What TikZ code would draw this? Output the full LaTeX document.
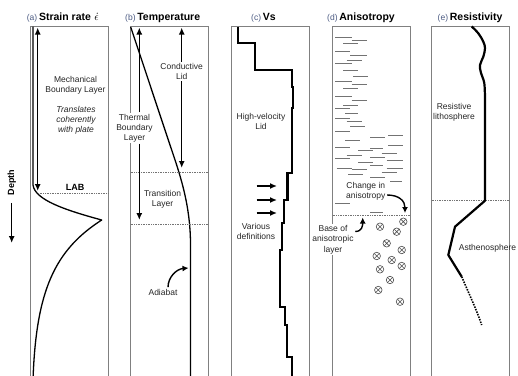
\documentclass[tikz,border=0pt]{standalone}
\usepackage{fontspec}
\setmainfont{Liberation Sans}
\usetikzlibrary{arrows.meta, positioning}
\definecolor{tagblue}{RGB}{75,90,130}
\newcommand{\paneltag}[1]{{\mdseries\fontsize{8.5}{10}\selectfont\color{tagblue}(#1)}}
\tikzset{
    panel/.style={draw=black!50, line width=0.9pt},
    layerline/.style={draw=black!55, densely dotted, line width=0.7pt},
    layerspan/.style={draw=black, line width=1.5pt, {Latex[length=7pt,width=6pt]}-{Latex[length=7pt,width=6pt]}},
    halfspan/.style={draw=black, line width=1.5pt, -{Latex[length=7pt,width=6pt]}},
    pointer/.style={draw=black, line width=1.5pt, -{Latex[length=7pt,width=6pt]}},
    curlyarrow/.style={draw=black, line width=1.4pt, -{Latex[length=6pt,width=6pt]}},
    profile/.style={draw=black, line width=1.3pt, line join=round},
    heavyprofile/.style={draw=black, line width=2.2pt},
    note/.style={font=\fontsize{8.5}{10}\selectfont, align=center, text=black!85, inner sep=1.5pt},
    italicnote/.style={note, font=\fontsize{8.5}{10}\selectfont\itshape},
    paneltitle/.style={font=\fontsize{10.5}{12}\selectfont\bfseries, anchor=west, inner sep=0pt},
    fabric/.style={draw=black!55, line width=0.8pt},
    olivine/.style={circle, draw=black!70, line width=0.6pt, minimum size=7.5pt, inner sep=0pt,
        path picture={\draw[black!70, line width=0.6pt]
            (path picture bounding box.north west) -- (path picture bounding box.south east)
            (path picture bounding box.north east) -- (path picture bounding box.south west);}}
}

\begin{document}
\begin{tikzpicture}[x=1pt, y=-1pt]
\useasboundingbox (0,0) rectangle (518,375);

% Panel frames (open at the bottom)
\foreach \xl in {30.7,130.7,231.7,332.7,431.7}
    \draw[panel] (\xl,380) -- (\xl,26.5) -- ++(77.6,0) -- ++(0,353.5);

% Titles
\node[paneltitle] (titlea) at (26.7,17.5) {\paneltag{a}\,Strain rate\,\,$\dot{\epsilon}$};
\node[paneltitle] (titleb) at (125,17.5) {\paneltag{b}\,Temperature};
\node[paneltitle] (titlec) at (251,17.5) {\paneltag{c}\,Vs};
\node[paneltitle] (titled) at (327,17.5) {\paneltag{d}\,Anisotropy};
\node[paneltitle] (titlee) at (437.5,17.5) {\paneltag{e}\,Resistivity};

% Depth axis
\node[rotate=90, font=\fontsize{9}{10}\selectfont\bfseries] (depth) at (11.7,182.5) {Depth};
\coordinate (depthtip) at (11.7,243);
\draw[pointer] ([yshift=-4pt]depth.west) -- (depthtip);

% (a) strain rate
\draw[profile] (33,26.5) -- (33,185) .. controls (35,200) and (65,210) .. (101.7,220)
    .. controls (55,250) and (36,290) .. (33,380);
\draw[layerline] (38,193) -- (108.3,193);
\coordinate (mbltop) at (37.7,27.5);
\coordinate (mblbot) at (37.7,191);
\draw[layerspan] (mbltop) -- (mblbot);
\node[note] (mbl) at (75.5,85) {Mechanical\\Boundary Layer};
\node[italicnote] (plate) at (76,120) {Translates\\coherently\\with plate};
\node[font=\fontsize{9}{10}\selectfont\bfseries] (lab) at (75,187.5) {LAB};

% (b) temperature
\draw[profile] (130.7,27) -- (170,145) .. controls (180.2,175) and (190.5,205) .. (190.5,245) -- (190.5,380);
\draw[layerline] (130.7,172) -- (208.3,172);
\draw[layerline] (130.7,224) -- (208.3,224);
\coordinate (tbltop) at (139.3,27.5);
\coordinate (tblbot) at (139.3,220);
\node[note, fill=white] (tbl) at (134.5,128) {Thermal\\Boundary\\Layer};
\draw[halfspan] (tbl.north -| tbltop) -- (tbltop);
\draw[halfspan] (tbl.south -| tblbot) -- (tblbot);
\coordinate (cltop) at (181.7,27.5);
\coordinate (clbot) at (181.7,168);
\node[note] (cl) at (181.7,71.5) {Conductive\\Lid};
\draw[halfspan] (cl.north) -- (cltop);
\draw[halfspan] (cl.south) -- (clbot);
\node[note] (trans) at (162.5,199.5) {Transition\\Layer};
\node[note] (adiabat) at (163,292) {Adiabat};
\coordinate (adiabatline) at (188.5,268);
\draw[curlyarrow] ([xshift=5pt]adiabat.north) .. controls +(0,-10) and +(-12,1) .. (adiabatline);

% (c) shear velocity
\draw[heavyprofile] (238.3,26.5) -- (238.3,43) -- (255,43) -- (255,70) -- (291.7,70) -- (291.7,87)
    -- (293.3,87) -- (293.3,108) -- (291.7,108) -- (291.7,173) -- (287.5,173) -- (287.5,200)
    -- (284.3,200) -- (284.3,223) -- (281.7,223) -- (281.7,250) -- (280,250) -- (280,307)
    -- (285,307) -- (285,325) -- (286.7,325) -- (286.7,357) -- (291.7,357) -- (291.7,380);
\foreach \y [count=\i] in {186,200,213} {
    \coordinate (vsa\i) at (256.7,\y);
    \coordinate (vsb\i) at (277,\y);
    \draw[pointer] (vsa\i) -- (vsb\i);
}
\node[note] (hvl) at (261,121.5) {High-velocity\\Lid};
\node[note] (defs) at (256,231.5) {Various\\definitions};

% (d) anisotropy
\foreach \xa/\xb/\y in {335/351.7/37.7, 351.7/366.7/40.3, 343.3/358.3/43.3,
    335/350/51.7, 350/366.7/55, 346.7/361.7/60, 335/351.7/63.3, 343.3/358.3/70, 353.3/368.3/76.7,
    335/351.7/81.7, 351.7/366.7/84.3, 343.3/358.3/88.3, 335/351.7/96.7, 351.7/366.7/100, 343.3/358.3/105,
    335/350/108.3, 345/358.3/113.3, 335/350/118.3, 346.7/361.7/121.7, 350/365/126.7, 335/350/131.7,
    388.3/403.3/135, 370/385/137.3, 345/360/140, 388.3/403.3/145.7, 335/350/147.3, 370/383.3/148.3,
    358.3/373.3/150.7, 381.7/396.7/153.3, 346.7/361.7/155, 370/385/157, 335/350/158.5, 386.7/403.3/160,
    358.3/373.3/162, 370/383.3/165, 336.7/351.7/168.3, 351.7/366.7/169, 386.7/403.3/168.3,
    381.7/396.7/172, 348/363/174, 370/385/177, 390/402/181, 335/350/203, 370/383/212}
    \draw[fabric] (\xa,\y) -- (\xb,\y);
\draw[layerline] (332.7,215.7) -- (409.3,215.7);
\node[note] (change) at (365.8,191) {Change in\\anisotropy};
\coordinate (changetip) at (405,213);
\draw[curlyarrow] ([yshift=-4pt]change.east) .. controls +(12,0) and +(0,-12) .. (changetip);
\node[note, fill=white, font=\fontsize{8.5}{10.5}\selectfont] (base) at (333,239.5) {Base of\\anisotropic\\layer};
\coordinate (basetip) at (362.7,217.5);
\draw[curlyarrow] ([yshift=8pt]base.east) .. controls +(7,0) and +(0,8) .. (basetip);
\foreach \x/\y [count=\i] in {403.3/221.7, 380/226.7, 396.7/231.7, 386.7/243.3, 401.7/250, 376.7/256,
    391.7/260, 401.7/266, 380/269.3, 390/280, 378.3/290, 400/301.7}
    \node[olivine] (ol\i) at (\x,\y) {};

% (e) resistivity
\draw[layerline] (431.7,200.7) -- (509.3,200.7);
\draw[heavyprofile, line join=round] plot[smooth, tension=0.6] coordinates {(471.7,26.5) (478.3,33.3)
    (483.3,41.7) (485,48.3) (483.3,56.7) (480,65) (481,73) (484.3,83.3) (485,100)}
    -- (485,200.7) -- (455,226.7) -- (448.3,255) -- (461.7,276.7);
\draw[heavyprofile, line width=1.6pt, dash pattern=on 1.5pt off 1.2pt] (461.7,276.7)
    .. controls (470,296) and (477,311) .. (481.7,325);
\node[note] (resist) at (454,112) {Resistive\\lithosphere};
\node[note] (asth) at (487.5,248) {Asthenosphere};

\end{tikzpicture}
\end{document}
